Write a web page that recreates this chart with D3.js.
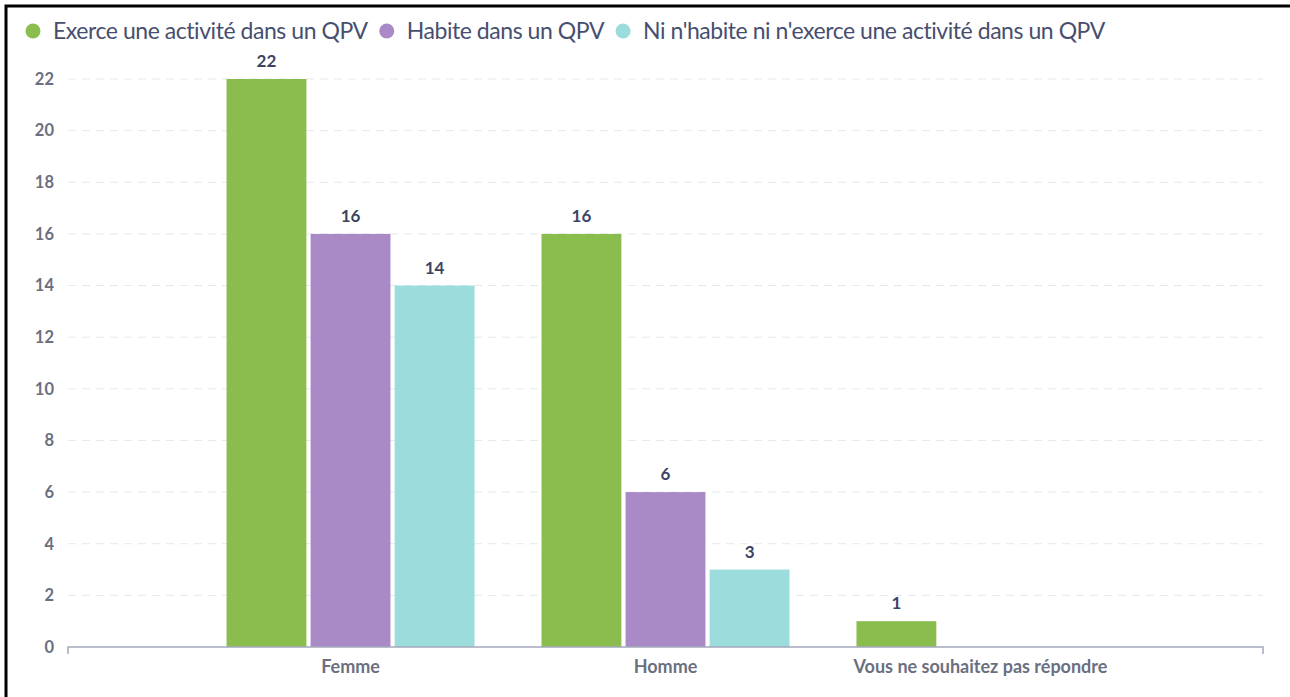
<!DOCTYPE html>
<html>
<head>
<meta charset="utf-8">
<script src="https://cdn.jsdelivr.net/npm/d3@7"></script>
<style>
  body { margin: 0; background: #fff; }
  svg { display: block; font-family: Lato, "Open Sans", sans-serif; }
</style>
</head>
<body>
<svg id="chart" width="1290" height="697"></svg>
<script>
const categories = ['Femme', 'Homme', 'Vous ne souhaitez pas répondre']
const seriesNames = [
  'Exerce une activité dans un QPV',
  'Habite dans un QPV',
  "Ni n'habite ni n'exerce une activité dans un QPV"
]
const exerce = [22, 16, 1]
const habite = [16, 6, null]
const ni = [14, 3, null]
const yTicks = [0, 2, 4, 6, 8, 10, 12, 14, 16, 18, 20, 22]

const colors = ['#8bbd4e', '#a98ac6', '#9cdcdc']
const seriesValues = [exerce, habite, ni]

const svg = d3.select('#chart')
const plotLeft = 68
const plotRight = 1263
const plotTop = 79
const plotBottom = 647

// frame
svg.append('rect')
  .attr('x', 6)
  .attr('y', 6)
  .attr('width', 1300)
  .attr('height', 720)
  .attr('fill', 'none')
  .attr('stroke', '#000')
  .attr('stroke-width', 3)

const x = d3.scaleBand()
  .domain(categories)
  .range([plotLeft, plotRight])
  .paddingOuter(0.397)
  .paddingInner(0)

const groupW = 248
const xSub = d3.scaleBand()
  .domain(seriesNames)
  .range([(x.bandwidth() - groupW) / 2, (x.bandwidth() + groupW) / 2])
  .paddingInner(0.05)

const y = d3.scaleLinear()
  .domain([0, 22])
  .range([plotBottom, plotTop])

// grid
svg.append('g')
  .selectAll('line')
  .data(yTicks.filter(d => d > 0))
  .join('line')
    .attr('x1', plotLeft)
    .attr('x2', plotRight)
    .attr('y1', d => y(d))
    .attr('y2', d => y(d))
    .attr('stroke', '#e6e8ee')
    .attr('stroke-dasharray', '8,6')

// y axis labels
const yAxis = d3.axisLeft(y).tickValues(yTicks).tickSize(0).tickPadding(0)
const gy = svg.append('g')
  .attr('transform', `translate(${plotLeft - 14}, 0)`)
  .call(yAxis)
gy.select('.domain').remove()
gy.selectAll('text')
  .attr('fill', '#6b6f80')
  .style('font-size', '16.5px')
  .style('font-weight', '700')
  .style('font-family', 'Lato, sans-serif')

// bars
const rows = []
categories.forEach((c, i) => {
  seriesNames.forEach((s, j) => {
    rows.push({ cat: c, series: s, value: seriesValues[j][i], color: colors[j] })
  })
})
const shown = rows.filter(d => d.value != null && d.value > 0)

svg.append('g')
  .selectAll('rect')
  .data(shown)
  .join('rect')
    .attr('x', d => x(d.cat) + xSub(d.series))
    .attr('y', d => y(d.value))
    .attr('width', xSub.bandwidth())
    .attr('height', d => plotBottom - y(d.value))
    .attr('fill', d => d.color)

svg.append('g')
  .selectAll('text')
  .data(shown)
  .join('text')
    .attr('x', d => x(d.cat) + xSub(d.series) + xSub.bandwidth() / 2)
    .attr('y', d => y(d.value) - 12)
    .attr('text-anchor', 'middle')
    .attr('fill', '#3b4464')
    .style('font-size', '17px')
    .style('font-weight', '700')
    .text(d => d.value)

// x axis line with end ticks
svg.append('path')
  .attr('d', `M${plotLeft},${plotBottom + 7}V${plotBottom}H${plotRight}V${plotBottom + 7}`)
  .attr('fill', 'none')
  .attr('stroke', '#a4a8ba')
  .attr('stroke-width', 1.5)

const xAxis = d3.axisBottom(x).tickSize(0).tickPadding(0)
const gx = svg.append('g')
  .attr('transform', `translate(0, ${plotBottom + 13})`)
  .call(xAxis)
gx.select('.domain').remove()
gx.selectAll('text')
  .attr('fill', '#6b6f80')
  .style('font-size', '18px')
  .style('font-weight', '700')
  .style('font-family', 'Lato, sans-serif')

// legend, items placed one after another
const legend = svg.append('g').attr('transform', 'translate(0, 31)')
let lx = 33
seriesNames.forEach((name, i) => {
  const item = legend.append('g').attr('transform', `translate(${lx}, 0)`)
  item.append('circle')
    .attr('r', 7.5)
    .attr('fill', colors[i])
  const t = item.append('text')
    .attr('x', 20)
    .attr('dy', '0.35em')
    .attr('fill', '#474f6f')
    .style('font-size', '23px')
    .style('letter-spacing', '-0.45px')
    .text(name)
  lx += 20 + t.node().getComputedTextLength() + 19
})
</script>
</body>
</html>
